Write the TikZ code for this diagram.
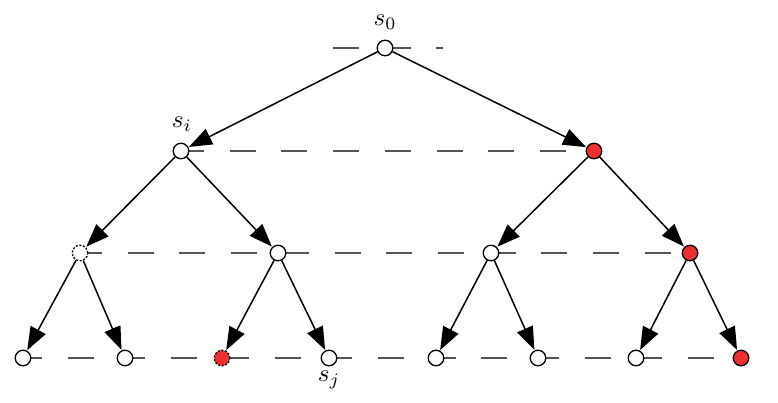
\documentclass[tikz,border=0pt]{standalone}
\usepackage{graphicx}
\usetikzlibrary{arrows.meta}
\definecolor{nodered}{RGB}{236,48,48}
\definecolor{dashgray}{RGB}{85,85,85}
\newcommand{\biglab}[1]{\scalebox{2.5}{$#1$}}
\begin{document}
\begin{tikzpicture}[x=1pt,y=-1pt,
  vert/.style={circle,draw=black,line width=1.3pt,fill=white,minimum size=15.5pt,inner sep=0pt},
  redvert/.style={vert,fill=nodered},
  ghost/.style={dash pattern=on 2pt off 1.6pt},
  level/.style={draw=dashgray,line width=1.1pt,dash pattern=on 26pt off 25.7pt},
  edge/.style={draw=black,line width=1.5pt,-{Triangle[length=23pt,width=17pt]},shorten >=0.5pt},
  lab/.style={inner sep=0pt}]
\useasboundingbox (0,0) rectangle (778,402);
% positions
\coordinate (p0) at (385,48);
\coordinate (p1a) at (181,151); \coordinate (p1b) at (594,151);
\coordinate (p2a) at (80,253); \coordinate (p2b) at (278,253);
\coordinate (p2c) at (491,253); \coordinate (p2d) at (690,253);
\coordinate (p3a) at (23,358); \coordinate (p3b) at (125,358);
\coordinate (p3c) at (222,358); \coordinate (p3d) at (329,358);
\coordinate (p3e) at (436,358); \coordinate (p3f) at (538,358);
\coordinate (p3g) at (636,358); \coordinate (p3h) at (741,358);
\coordinate (l0a) at (333,48); \coordinate (l0b) at (443,48);
% level lines
\draw[level] (l0a) -- (l0b);
\draw[level,dash phase=3pt] (p1a) -- (p1b);
\draw[level,dash phase=4pt] (p2a) -- (p2d);
\draw[level,dash phase=7pt] (p3a) -- (p3h);
% nodes
\node[vert] (s0) at (p0) {};
\node[vert] (n1a) at (p1a) {};
\node[redvert] (n1b) at (p1b) {};
\node[vert,ghost] (n2a) at (p2a) {};
\node[vert] (n2b) at (p2b) {};
\node[vert] (n2c) at (p2c) {};
\node[redvert] (n2d) at (p2d) {};
\node[vert] (n3a) at (p3a) {};
\node[vert] (n3b) at (p3b) {};
\node[redvert,ghost] (n3c) at (p3c) {};
\node[vert] (n3d) at (p3d) {};
\node[vert] (n3e) at (p3e) {};
\node[vert] (n3f) at (p3f) {};
\node[vert] (n3g) at (p3g) {};
\node[redvert] (n3h) at (p3h) {};
% edges
\draw[edge] (s0) -- (n1a);
\draw[edge] (s0) -- (n1b);
\draw[edge] (n1a) -- (n2a);
\draw[edge] (n1a) -- (n2b);
\draw[edge] (n1b) -- (n2c);
\draw[edge] (n1b) -- (n2d);
\draw[edge] (n2a) -- (n3a);
\draw[edge] (n2a) -- (n3b);
\draw[edge] (n2b) -- (n3c);
\draw[edge] (n2b) -- (n3d);
\draw[edge] (n2c) -- (n3e);
\draw[edge] (n2c) -- (n3f);
\draw[edge] (n2d) -- (n3g);
\draw[edge] (n2d) -- (n3h);
% labels
\node[lab] (ls0) at (385,22) {\biglab{s_0}};
\node[lab] (lsi) at (182,124) {\biglab{s_i}};
\node[lab] (lsj) at (329,380) {\biglab{s_j}};
\end{tikzpicture}
\end{document}
